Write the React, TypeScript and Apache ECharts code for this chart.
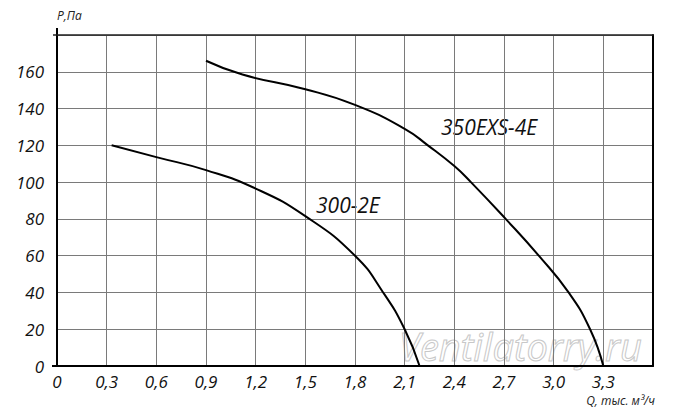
import React, { useEffect, useRef } from "react";
import * as echarts from "echarts";

const xMin = 0;
const xMax = 3.6;
const xStep = 0.3;
const yMin = 0;
const yMax = 180;
const yStep = 20;

const name300 = "300-2E";
const name350 = "350EXS-4E";

const curve300: [number, number][] = [
  [0.33, 120], [0.6, 113.6], [0.9, 106.5], [1.2, 96.5], [1.5, 81.5],
  [1.8, 60], [1.97, 40], [2.1, 20], [2.19, 0],
];

const curve350: [number, number][] = [
  [0.9, 166], [1.12, 158.5], [1.5, 150.5], [1.8, 142],
  [2.1, 129], [2.24, 120], [2.4, 108.7], [2.5, 100], [2.71, 80],
  [2.91, 60], [3.09, 40], [3.22, 20], [3.3, 0],
];

const yAxisTitle = "P,Па";
const xAxisTitle = "Q, тыс. м³/ч";
const watermark = "Ventilatorry.ru";

const FONT = "'Open Sans', 'DejaVu Sans', sans-serif";

export default function App() {
  const ref = useRef<HTMLDivElement>(null);
  useEffect(() => {
    if (!ref.current) return;
    const chart = echarts.init(ref.current, null, { renderer: "svg" });
    const labelStyle = {
      fontFamily: FONT,
      fontStyle: "italic" as const,
      fontSize: 17,
      color: "#111",
    };
    chart.setOption({
      animation: false,
      backgroundColor: "#fff",
      grid: { left: 57, right: 47, top: 35, bottom: 54 },
      xAxis: [
        {
          type: "value",
          min: xMin,
          max: xMax,
          interval: xStep,
          axisLine: { show: true, onZero: false, lineStyle: { color: "#000", width: 2 } },
          axisTick: { show: false },
          splitLine: { show: true, lineStyle: { color: "#7a7a7a", width: 1 } },
          axisLabel: {
            ...labelStyle,
            margin: 7,
            formatter: (v: number) => {
              if (Math.abs(v - xMax) < 1e-6) return "";
              if (Math.abs(v) < 1e-6) return "0";
              return v.toFixed(1).replace(".", ",");
            },
          },
        },
        {
          type: "value",
          position: "top",
          min: xMin,
          max: xMax,
          interval: xStep,
          axisLine: { show: true, onZero: false, lineStyle: { color: "#222", width: 1.5 } },
          axisTick: { show: false },
          axisLabel: { show: false },
          splitLine: { show: false },
        },
      ],
      yAxis: [
        {
          type: "value",
          min: yMin,
          max: yMax,
          interval: yStep,
          axisLine: { show: true, onZero: false, lineStyle: { color: "#000", width: 2 } },
          axisTick: { show: false },
          splitLine: { show: true, lineStyle: { color: "#7a7a7a", width: 1 } },
          axisLabel: {
            ...labelStyle,
            margin: 13,
            formatter: (v: number) => (v >= yMax ? "" : String(v)),
          },
        },
        {
          type: "value",
          position: "right",
          min: yMin,
          max: yMax,
          interval: yStep,
          axisLine: { show: true, onZero: false, lineStyle: { color: "#000", width: 2 } },
          axisTick: { show: false },
          axisLabel: { show: false },
          splitLine: { show: false },
        },
      ],
      series: [
        {
          name: name300,
          type: "line",
          data: curve300,
          smooth: 0.5,
          symbol: "none",
          lineStyle: { color: "#000", width: 2 },
        },
        {
          name: name350,
          type: "line",
          data: curve350,
          smooth: 0.5,
          symbol: "none",
          lineStyle: { color: "#000", width: 2 },
        },
      ],
      graphic: [
        {
          type: "text",
          z: 0,
          silent: true,
          style: {
            x: 399,
            y: 360,
            text: watermark,
            font: `italic 38px ${FONT}`,
            lineHeight: 28,
            verticalAlign: "bottom",
            fill: "rgba(255,255,255,0)",
            stroke: "#c8c8c8",
            lineWidth: 1,
          },
        },
        {
          type: "line",
          shape: { x1: 57, y1: 28, x2: 57, y2: 36 },
          style: { stroke: "#000", lineWidth: 2 },
        },
        {
          type: "line",
          shape: { x1: 53, y1: 35, x2: 57, y2: 35 },
          style: { stroke: "#222", lineWidth: 1.5 },
        },
        {
          type: "line",
          shape: { x1: 52, y1: 366, x2: 57, y2: 366 },
          style: { stroke: "#000", lineWidth: 2 },
        },
        {
          type: "text",
          left: 57,
          top: 9,
          style: {
            text: yAxisTitle,
            font: `italic 12px ${FONT}`,
            fill: "#222",
          },
        },
        {
          type: "text",
          right: 45,
          top: 394,
          style: {
            text: xAxisTitle,
            font: `italic 12px ${FONT}`,
            fill: "#222",
          },
        },
        {
          type: "text",
          left: 316,
          top: 194,
          style: {
            text: name300,
            font: `italic 21px ${FONT}`,
            fill: "#111",
          },
        },
        {
          type: "text",
          left: 441,
          top: 116,
          style: {
            text: name350,
            font: `italic 21px ${FONT}`,
            fill: "#111",
          },
        },
      ],
    });
    return () => chart.dispose();
  }, []);
  return (
    <div
      ref={ref}
      style={{ position: "fixed", left: 0, top: 0, width: 700, height: 420 }}
    />
  );
}
